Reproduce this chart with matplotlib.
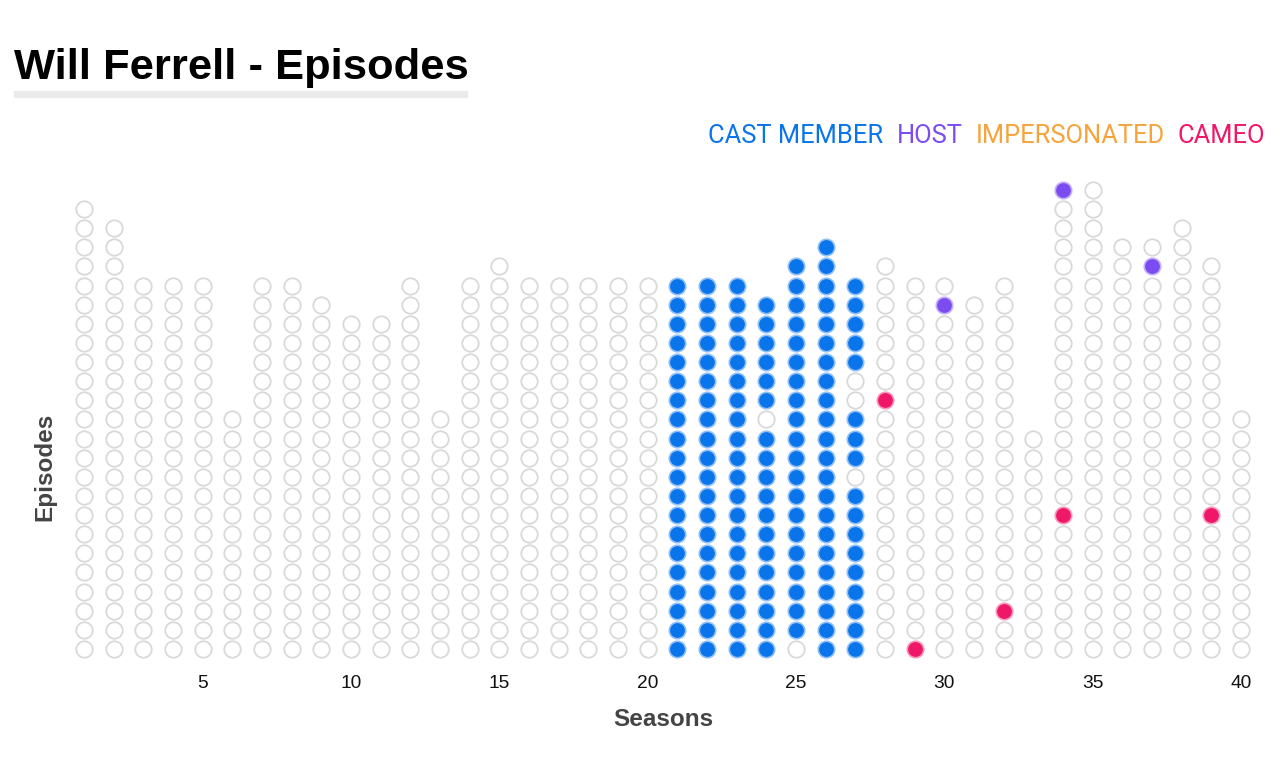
import numpy as np
import matplotlib
matplotlib.use("Agg")
import matplotlib.pyplot as plt
from matplotlib.patches import Rectangle
from matplotlib.colors import to_rgb

# episodes per season (seasons 1..40)
seasons = list(range(1, 41))
episodes = [24, 23, 20, 20, 20, 13, 20, 20, 19, 18,
            18, 20, 13, 20, 21, 20, 20, 20, 20, 20,
            20, 20, 20, 19, 21, 22, 20, 21, 20, 20,
            19, 20, 12, 25, 25, 22, 22, 23, 21, 13]

# Will Ferrell appearances: (season, episode number)
cast_seasons = [21, 22, 23, 24, 25, 26, 27]
cast_missing = [(24, 13), (25, 1), (27, 10), (27, 14), (27, 15)]
host_eps = [(30, 19), (34, 25), (37, 21)]
impersonated_eps = []
cameo_eps = [(28, 14), (29, 1), (32, 3), (34, 8), (39, 8)]

legend_labels = ["CAST MEMBER", "HOST", "IMPERSONATED", "CAMEO"]
legend_colors = ["#0a74ea", "#7b4cf0", "#f7a33b", "#ef1768"]
cat_colors = dict(zip(["cast", "host", "imp", "cameo"], legend_colors))

W, H = 1288, 782
fig = plt.figure(figsize=(W / 100, H / 100), dpi=100)

# axes placed so seasons 1..40 / episodes sit on the reference grid
ax = fig.add_axes([54.3 / W, (H - 668.1) / H, 1216.4 / W, 497.25 / H])
ax.set_xlim(0, 41)
ax.set_ylim(-1, 25)

# assign a role to every episode
role = {}
for s in cast_seasons:
    for e in range(1, episodes[s - 1] + 1):
        if (s, e) not in cast_missing:
            role[(s, e)] = "cast"
for s, e in host_eps:
    role[(s, e)] = "host"
for s, e in impersonated_eps:
    role[(s, e)] = "imp"
for s, e in cameo_eps:
    role[(s, e)] = "cameo"

ex, ey = [], []
for s, n in zip(seasons, episodes):
    for e in range(1, n + 1):
        if (s, e) not in role:
            ex.append(s)
            ey.append(e - 1)
ax.scatter(ex, ey, s=140, facecolor="white", edgecolor="#d9d9d9",
           linewidth=1.3, zorder=2)

for key in ["cast", "host", "imp", "cameo"]:
    pts = [k for k, v in role.items() if v == key]
    if not pts:
        continue
    c = np.array(to_rgb(cat_colors[key]))
    halo = 0.45 * c + 0.55 * np.ones(3)
    ax.scatter([p[0] for p in pts], [p[1] - 1 for p in pts], s=140,
               facecolor=cat_colors[key], edgecolor=halo, linewidth=1.2,
               zorder=3)

ax.set_xticks([5, 10, 15, 20, 25, 30, 35, 40])
ax.set_yticks([])
ax.tick_params(axis="x", length=0, pad=5, labelsize=13.8, labelcolor="#111111")
for lab in ax.get_xticklabels():
    lab.set_family("Liberation Sans")
for sp in ax.spines.values():
    sp.set_visible(False)

# axis labels
fig.text(663 / W, 1 - 720 / H, "Seasons", ha="center", va="center",
         fontsize=17.5, fontweight="bold", color="#444444",
         family="Liberation Sans")
fig.text(45 / W, 1 - 467 / H, "Episodes", ha="center", va="center",
         rotation=90, fontsize=17.5, fontweight="bold", color="#444444",
         family="Liberation Sans")

# title with grey underline bar
fig.text(14 / W, 1 - 79 / H, "Will Ferrell - Episodes", ha="left",
         va="baseline", fontsize=31.3, fontweight="bold", color="black",
         family="Liberation Sans")
fig.patches.append(Rectangle((14 / W, 1 - 97 / H), 453 / W, 6 / H,
                             transform=fig.transFigure, color="#ebebeb",
                             zorder=0))

# legend as coloured words, laid out right to left
renderer = fig.canvas.get_renderer()
x_right = 1265
for lab, col in reversed(list(zip(legend_labels, legend_colors))):
    t = fig.text(x_right / W, 1 - 143 / H, lab, ha="right", va="baseline",
                 fontsize=18.4, color=col, family="Roboto")
    bb = t.get_window_extent(renderer)
    x_right -= bb.width + 13

fig.savefig("out.png", dpi=100, facecolor="white")
